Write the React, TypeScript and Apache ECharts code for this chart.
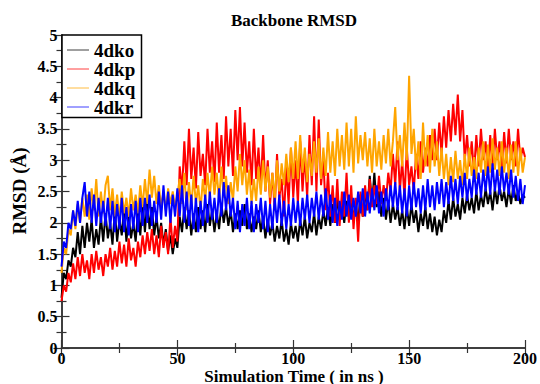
import React, { useEffect, useRef } from "react";
import * as echarts from "echarts";

// RMSD values (Å), one per ns from 0 to 200 ns
const dko: number[] = [
  0.8, 1.2, 1.1, 1.4, 1.3, 1.6,
  1.45, 1.85, 1.5, 1.95, 1.6, 2.0, 1.7, 2.05, 1.6, 1.9,
  1.65, 2.1, 1.7, 2.15, 1.75, 2.0, 1.65, 2.2, 1.7, 2.05, 1.8, 2.25, 1.7, 2.1, 1.75,
  2.0, 1.7, 2.2, 1.8, 2.3, 1.85, 2.35, 1.9, 2.25, 1.8, 2.1, 1.75, 2.0, 1.65, 1.9,
  1.55, 1.8, 1.5, 1.75, 1.6,
  2.1, 1.85, 2.25, 1.9, 2.2, 1.8, 2.15, 1.85, 2.25, 1.9, 2.2, 1.85, 2.3, 1.95, 2.2, 1.85,
  2.15, 1.9, 2.3, 2.0, 2.25, 1.95, 2.2, 1.85, 2.15, 1.9, 2.2, 1.95, 2.3, 1.9, 2.15, 1.85, 2.1, 1.9, 2.2,
  1.85, 2.1, 1.75, 2.05, 1.8, 2.0, 1.7, 1.95, 1.75, 2.05, 1.7, 1.9, 1.65, 2.0, 1.75,
  1.95, 1.7, 2.05, 1.8, 2.1, 1.75, 2.0, 1.85, 2.15, 1.8, 2.1, 1.9, 2.2, 1.95, 2.25,
  1.95, 2.3, 2.0, 2.4, 2.05, 2.3, 2.0, 2.35, 2.1, 2.4, 2.05, 2.3, 2.0, 2.45, 2.1,
  2.5, 2.2, 2.75, 2.3, 2.8, 2.25, 2.5, 2.1, 2.4, 2.05, 2.35, 2.0, 2.3, 2.05, 2.25, 1.95, 2.2,
  1.9, 2.25, 1.95, 2.3, 2.0, 2.2, 1.85, 2.15, 1.95, 2.25, 1.9, 2.15, 1.85, 2.1, 1.8, 2.05, 1.85, 2.2,
  2.0, 2.35, 2.05, 2.4, 2.1, 2.3, 2.05, 2.4, 2.15, 2.45, 2.2, 2.4, 2.15, 2.5, 2.2,
  2.45, 2.25, 2.55, 2.3, 2.5, 2.2, 2.55, 2.3, 2.6, 2.35, 2.5, 2.25, 2.55, 2.3, 2.6, 2.35, 2.5, 2.3, 2.45, 2.4,
];

const dkp: number[] = [
  0.75, 1.0, 0.9, 1.2, 1.05, 1.35,
  1.1, 1.45, 1.15, 1.5, 1.2, 1.4, 1.1, 1.5, 1.2, 1.55, 1.25, 1.45, 1.15, 1.5, 1.3,
  1.6, 1.25, 1.55, 1.3, 1.7, 1.35, 1.65, 1.3, 1.75, 1.4, 1.6, 1.3, 1.7, 1.45, 1.8,
  1.5, 1.85, 1.55, 1.9, 1.5, 1.8, 1.45, 1.95, 1.6, 1.85, 1.5, 2.1, 1.6, 1.95, 1.7,
  2.9, 2.5, 3.3, 2.6, 3.5, 2.7, 3.2, 2.55, 3.45, 2.75, 3.1, 2.6, 3.5, 2.8, 3.3, 2.65,
  3.6, 2.8, 3.4, 2.7, 3.7, 2.9, 3.5, 2.75, 3.8, 3.0, 3.85, 2.9, 3.6, 2.8,
  3.3, 2.6, 3.5, 2.7, 3.2, 2.55, 3.4, 2.5,
  3.0, 2.3, 2.8, 2.2, 3.1, 2.4, 2.7, 2.1, 2.9, 2.3, 3.2, 2.4,
  3.0, 2.3, 3.3, 2.5, 3.1, 2.4, 3.4, 2.6, 3.7, 2.5, 3.65, 2.6,
  3.0, 2.2, 2.8, 2.1, 2.6, 2.0, 2.7, 1.95, 2.5, 2.1, 2.8, 2.0, 2.6,
  1.9, 2.4, 1.7, 2.5, 2.1, 2.6, 2.2, 2.7, 2.25, 2.6, 2.3, 2.75, 2.3, 2.6, 2.35, 2.8, 2.5,
  3.1, 2.6, 3.3, 2.5, 3.0, 2.4, 3.2, 2.6, 2.9, 2.5, 3.1, 2.7, 3.3, 2.8, 3.2, 2.9, 3.4, 3.0,
  3.5, 3.0, 3.6, 3.1, 3.7, 3.2, 3.8, 3.3, 3.9, 3.4, 4.05, 3.3, 3.8, 3.0, 3.4,
  2.9, 3.3, 2.8, 3.4, 2.9, 3.5, 3.0, 3.3, 2.8, 3.4, 2.9, 3.5, 3.0, 3.3, 2.85, 3.45, 2.95, 3.5, 3.0, 3.3, 2.9, 3.5, 3.0, 3.2, 3.05,
];

const dkq: number[] = [
  1.2, 1.6, 1.5, 1.9, 1.8, 2.2,
  1.9, 2.3, 2.0, 2.4, 2.1, 2.45, 2.05, 2.55, 2.2, 2.7, 2.1, 2.5, 2.15, 2.6, 2.75,
  2.2, 2.55, 2.1, 2.45, 2.05, 2.5, 2.15, 2.4, 2.1, 2.55, 2.2, 2.45, 2.15, 2.6, 2.25,
  2.7, 2.3, 2.85, 2.4, 2.75, 2.3, 2.6, 2.25, 2.5, 2.2, 2.55, 2.3, 2.5, 2.25, 2.45,
  2.7, 2.3, 2.8, 2.2, 2.65, 2.25, 2.75, 2.3, 2.6, 2.2, 2.7, 2.35, 2.8, 2.4, 2.9, 2.45,
  2.8, 2.35, 2.9, 2.4, 2.75, 2.3, 2.65, 2.35, 2.9, 2.5, 3.1, 2.6, 3.0, 2.45, 2.85, 2.3, 2.7, 2.35, 2.9,
  2.45, 3.0, 2.5, 2.9, 2.4, 2.8, 2.35, 3.0, 2.5, 2.95, 2.6, 3.1, 2.65, 3.2, 2.7,
  3.3, 2.7, 3.4, 2.8, 3.2, 2.65, 3.1, 2.75, 3.3, 2.8, 3.35, 2.7, 3.2, 2.75, 3.45,
  2.8, 3.3, 2.75, 3.5, 2.9, 3.4, 2.85, 3.6, 2.9, 3.5, 2.8, 3.7, 2.95, 3.4, 3.0,
  3.45, 2.9, 3.35, 2.8, 3.5, 2.9, 3.3, 2.85, 3.4, 2.95, 3.5, 2.9, 3.3, 3.85, 3.0, 3.4, 2.9,
  3.6, 3.0, 4.35, 3.1, 3.5, 2.85, 3.3, 2.7, 3.6, 2.9, 3.4, 2.8, 3.5, 2.9, 3.3, 2.75, 3.2, 2.7,
  3.1, 2.6, 3.05, 2.65, 3.15, 2.7, 3.0, 2.6, 3.1, 2.7, 3.2, 2.75, 3.05, 2.7, 3.2,
  2.8, 3.3, 2.75, 3.25, 2.8, 3.35, 2.85, 3.2, 2.75, 3.3, 2.8, 3.2, 2.7, 3.25, 2.8, 3.3, 2.75, 3.2, 2.8, 3.05,
];

const dkr: number[] = [
  1.3, 1.7, 1.6, 2.0, 1.9, 2.2,
  1.95, 2.35, 2.0, 2.4, 2.65, 2.1, 2.5, 2.0, 2.45, 1.95, 2.4, 2.0, 2.35, 1.95, 2.4,
  1.9, 2.35, 1.85, 2.3, 1.9, 2.4, 1.85, 2.25, 1.8, 2.3, 1.9, 2.35, 1.85, 2.4, 1.95,
  2.4, 2.0, 2.45, 1.95, 2.35, 2.0, 2.5, 2.05, 2.6, 2.1, 2.5, 2.0, 2.45, 2.1, 2.55,
  2.1, 2.6, 2.0, 2.5, 1.95, 2.45, 1.9, 2.4, 1.85, 2.35, 1.95, 2.45, 2.0, 2.5, 2.05, 2.4,
  2.0, 2.55, 2.1, 2.65, 2.2, 2.6, 2.1, 2.4, 1.9, 2.35, 1.85, 2.3, 1.95, 2.4, 1.9, 2.35, 1.85, 2.3, 2.0,
  2.4, 1.9, 2.35, 1.85, 2.3, 1.9, 2.4, 2.0, 2.45, 1.95, 2.35, 1.9, 2.3, 1.95, 2.4,
  2.0, 2.35, 1.95, 2.4, 2.05, 2.45, 2.0, 2.4, 2.1, 2.5, 2.05, 2.45, 2.1, 2.55, 2.05,
  2.45, 2.0, 2.4, 1.95, 2.35, 2.05, 2.5, 2.1, 2.45, 2.05, 2.4, 2.1, 2.5, 2.15, 2.55,
  2.1, 2.5, 2.15, 2.55, 2.2, 2.6, 2.15, 2.5, 2.1, 2.55, 2.2, 2.6, 2.25, 2.65, 2.2, 2.6, 2.15,
  2.55, 2.1, 2.6, 2.2, 2.65, 2.25, 2.55, 2.15, 2.6, 2.2, 2.7, 2.25, 2.6, 2.2, 2.65, 2.3, 2.7, 2.25,
  2.65, 2.3, 2.75, 2.35, 2.7, 2.3, 2.75, 2.4, 2.8, 2.35, 2.7, 2.4, 2.85, 2.45, 2.8,
  2.4, 2.85, 2.5, 2.9, 2.45, 2.95, 2.5, 2.85, 2.45, 2.9, 2.5, 2.8, 2.45, 2.85, 2.4, 2.75, 2.35, 2.7, 2.3, 2.6,
];

const SERIES_NAMES = ["4dko", "4dkp", "4dkq", "4dkr"];
const SERIES_COLORS = ["#000000", "#ff0000", "#ffa500", "#0000ff"];
const SERIES_VALUES = [dko, dkp, dkq, dkr];
const STEP_NS = 1;

const X_MIN = 0;
const X_MAX = 200;
const X_INTERVAL = 50;
const Y_MIN = 0;
const Y_MAX = 5;
const Y_INTERVAL = 0.5;

const FONT = "'Liberation Serif', 'Times New Roman', serif";

export default function App() {
  const ref = useRef<HTMLDivElement>(null);

  useEffect(() => {
    if (!ref.current) return;
    const chart = echarts.init(ref.current, undefined, { renderer: "svg" });

    const axisLine = { show: true, lineStyle: { color: "#333", width: 1.5 } };
    const tick = { show: true, inside: true, length: 8, lineStyle: { color: "#333", width: 1.2 } };
    const minorTick = { show: true, splitNumber: 2, length: 5, lineStyle: { color: "#333", width: 1.2 } };
    const label = { fontFamily: FONT, fontWeight: "bold" as const, fontSize: 16, lineHeight: 14, color: "#000" };

    const legendGraphics: any[] = [
      {
        type: "rect",
        shape: { x: 62, y: 35, width: 79.5, height: 82.5 },
        style: { fill: "#fff", stroke: "#000", lineWidth: 1.5 },
        z: 100,
      },
    ];
    SERIES_NAMES.forEach((name, i) => {
      const cy = 50 + i * 19;
      legendGraphics.push({
        type: "line",
        shape: { x1: 67, y1: cy, x2: 89, y2: cy },
        style: { stroke: SERIES_COLORS[i], lineWidth: 1, opacity: 0.75 },
        z: 101,
      });
      legendGraphics.push({
        type: "text",
        x: 94,
        y: cy,
        style: {
          text: name,
          font: `bold 19px ${FONT}`,
          lineHeight: 17,
          fill: "#000",
          verticalAlign: "middle",
          align: "left",
        },
        z: 101,
      });
    });

    chart.setOption({
      animation: false,
      backgroundColor: "#fff",
      grid: { left: 61.5, right: 14, top: 35, bottom: 36, containLabel: false },
      xAxis: [
        {
          type: "value",
          min: X_MIN,
          max: X_MAX,
          interval: X_INTERVAL,
          position: "bottom",
          axisLine,
          axisTick: tick,
          minorTick,
          splitLine: { show: false },
          axisLabel: { ...label, margin: 3 },
        },
        {
          type: "value",
          min: X_MIN,
          max: X_MAX,
          interval: X_INTERVAL,
          position: "top",
          axisLine,
          axisTick: tick,
          minorTick,
          splitLine: { show: false },
          axisLabel: { show: false },
        },
      ],
      yAxis: [
        {
          type: "value",
          min: Y_MIN,
          max: Y_MAX,
          interval: Y_INTERVAL,
          position: "left",
          axisLine,
          axisTick: tick,
          minorTick,
          splitLine: { show: false },
          axisLabel: { ...label, margin: 4 },
        },
        {
          type: "value",
          min: Y_MIN,
          max: Y_MAX,
          interval: Y_INTERVAL,
          position: "right",
          axisLine,
          axisTick: tick,
          minorTick,
          splitLine: { show: false },
          axisLabel: { show: false },
        },
      ],
      series: SERIES_VALUES.map((vals, i) => ({
        name: SERIES_NAMES[i],
        type: "line",
        xAxisIndex: 0,
        yAxisIndex: 0,
        data: vals.map((v, k) => [k * STEP_NS, v]),
        showSymbol: false,
        symbol: "none",
        lineStyle: { color: SERIES_COLORS[i], width: 2 },
        itemStyle: { color: SERIES_COLORS[i] },
        z: 2 + i,
      })),
      graphic: [
        {
          type: "text",
          x: 294,
          y: 20,
          style: {
            text: "Backbone RMSD",
            font: `bold 17px ${FONT}`,
            fill: "#000",
            align: "center",
            verticalAlign: "middle",
          },
        },
        {
          type: "text",
          x: 294,
          y: 376,
          style: {
            text: "Simulation Time ( in ns )",
            font: `bold 17px ${FONT}`,
            lineHeight: 15,
            fill: "#000",
            align: "center",
            verticalAlign: "middle",
          },
        },
        {
          type: "text",
          x: 19.5,
          y: 191,
          rotation: Math.PI / 2,
          style: {
            text: "RMSD (Å)",
            font: `bold 19px ${FONT}`,
            fill: "#000",
            align: "center",
            verticalAlign: "middle",
          },
        },
        ...legendGraphics,
      ],
    });

    return () => chart.dispose();
  }, []);

  return <div ref={ref} style={{ width: 540, height: 384, position: "absolute", left: 0, top: 0 }} />;
}
